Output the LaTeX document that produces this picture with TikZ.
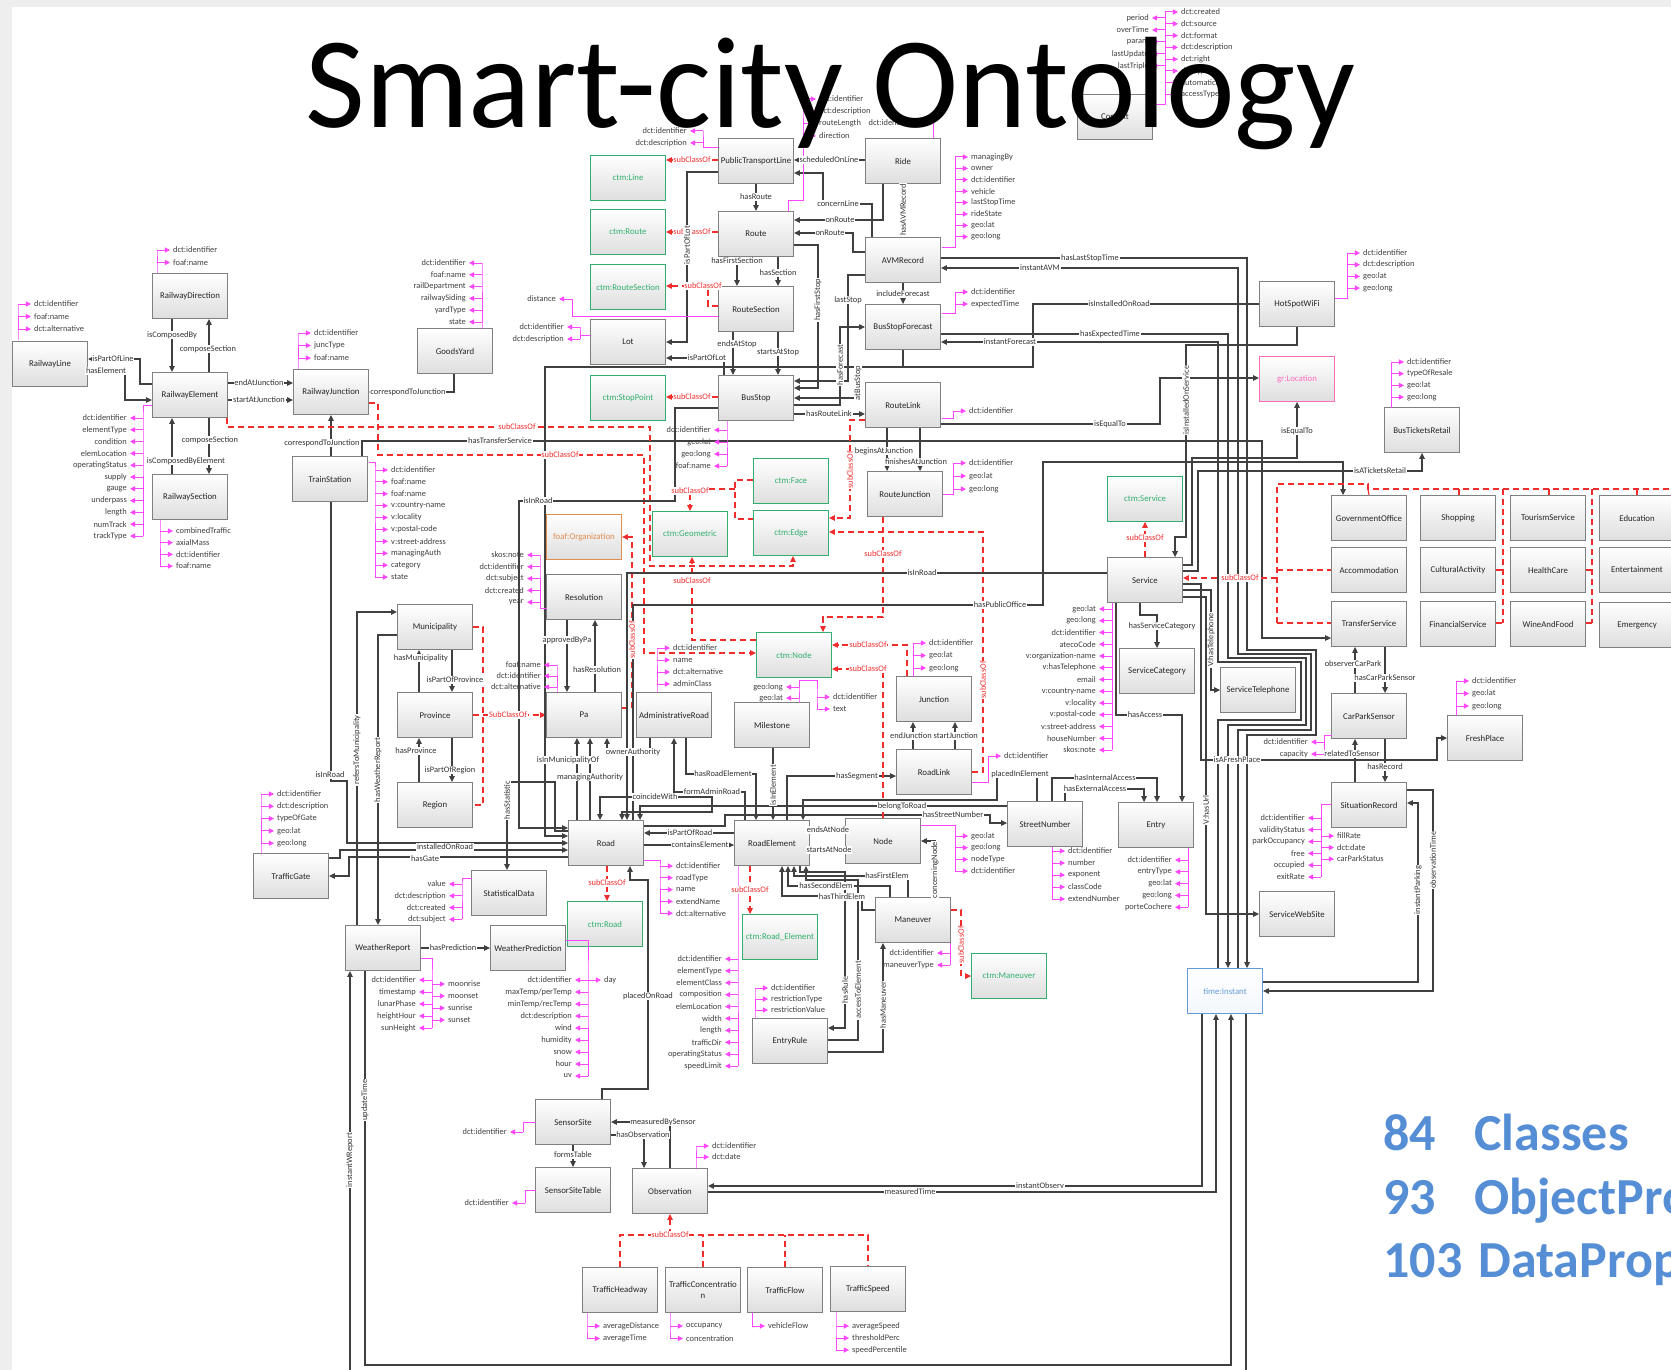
\documentclass[tikz,border=0pt]{standalone}
\usepackage{fontspec}
\setmainfont{Carlito}
\usetikzlibrary{arrows.meta}
\pgfdeclarelayer{back}
\pgfdeclarelayer{bg}
\pgfsetlayers{back,bg,main}

\definecolor{cline}{RGB}{64,64,64}
\definecolor{mag}{RGB}{255,70,255}
\definecolor{sred}{RGB}{240,45,45}
\definecolor{cgreen}{RGB}{50,175,110}
\definecolor{corange}{RGB}{225,140,80}
\definecolor{cpink}{RGB}{255,110,190}
\definecolor{cblue}{RGB}{100,155,215}
\definecolor{statc}{RGB}{85,142,213}
\definecolor{bgray}{RGB}{238,238,238}

\newcounter{ac}
\newcounter{lc}
% attribute list, arrows to the right
\newcommand\myattrR[5]{%
  \foreach \t [count=\i] in {#5} {\xdef\nattr{\i}}%
  \draw[attr] #1 -| (#2,#3) -- (#2,{#3+(\nattr-1)*#4});%
  \foreach \t [count=\i] in {#5} {%
    \draw[attr,atip] (#2,{#3+(\i-1)*#4}) -- ++(13,0);%
    \stepcounter{ac}%
    \node[atxt,anchor=west] (at\arabic{ac}) at ({#2+15},{#3+(\i-1)*#4}) {\t};%
  }%
}
% attribute list, arrows to the left
\newcommand\myattrL[5]{%
  \foreach \t [count=\i] in {#5} {\xdef\nattr{\i}}%
  \draw[attr] #1 -| (#2,#3) -- (#2,{#3+(\nattr-1)*#4});%
  \foreach \t [count=\i] in {#5} {%
    \draw[attr,atip] (#2,{#3+(\i-1)*#4}) -- ++(-13,0);%
    \stepcounter{ac}%
    \node[atxt,anchor=east] (at\arabic{ac}) at ({#2-15},{#3+(\i-1)*#4}) {\t};%
  }%
}
\newcommand\elab[3][]{\stepcounter{lc}\node[elbl,#1] (lb\arabic{lc}) at (#2) {#3};}

\tikzset{
  box/.style={draw=black!50, line width=0.45pt, top color=white, bottom color=black!13,
    minimum width=37.5pt, minimum height=22.5pt, inner sep=0.5pt, text=black!85,
    font=\fontsize{4.4}{5.2}\selectfont, align=center},
  gbox/.style={box, draw=cgreen, text=cgreen},
  obox/.style={box, draw=corange, text=corange},
  pbox/.style={box, draw=cpink, text=cpink},
  tbox/.style={box, draw=cblue, text=cblue, bottom color=cblue!8},
  atxt/.style={font=\fontsize{4.2}{5}\selectfont, text=black!75, inner sep=0.4pt},
  elbl/.style={font=\fontsize{4.2}{5}\selectfont, text=black!80, fill=white, inner sep=0.4pt},
  rl/.style={text=sred},
  rot/.style={rotate=90},
  attr/.style={draw=mag, line width=0.5pt},
  atip/.style={-{Triangle[length=2.6pt,width=2.6pt]}},
  conn/.style={draw=cline, line width=0.55pt},
  arr/.style={-{Triangle[length=3pt,width=2.8pt]}},
  barr/.style={{Triangle[length=3pt,width=2.8pt]}-{Triangle[length=3pt,width=2.8pt]}},
  sub/.style={draw=sred, line width=0.55pt, dash pattern=on 3pt off 2pt},
  stat/.style={anchor=base west, inner sep=0, text=statc, font=\fontsize{26}{30}\selectfont\bfseries},
}

\begin{document}
\begin{tikzpicture}[x=0.5pt,y=-0.5pt]
\useasboundingbox (0,0) rectangle (1671,1370);
\clip (0,0) rectangle (1671,1370);
\begin{pgfonlayer}{back}
\fill[bgray] (0,0) rectangle (1671,1370);
\fill[white] (12,7) rectangle (1671,1370);
\end{pgfonlayer}

% ---------------- classes ----------------
\node[box] (RailwayDirection) at (190,296) {RailwayDirection};
\node[box] (RailwayLine) at (50,364) {RailwayLine};
\node[box] (RailwayElement) at (190,395) {RailwayElement};
\node[box] (RailwayJunction) at (331,392) {RailwayJunction};
\node[box] (RailwaySection) at (190,497) {RailwaySection};
\node[box] (TrainStation) at (330,479) {TrainStation};
\node[box] (GoodsYard) at (455,351) {GoodsYard};
\node[box] (PublicTransportLine) at (756,161) {PublicTransportLine};
\node[gbox] (ctmLine) at (628,178) {ctm:Line};
\node[gbox] (ctmRoute) at (628,232) {ctm:Route};
\node[gbox] (ctmRouteSection) at (628,287) {ctm:RouteSection};
\node[gbox] (ctmStopPoint) at (628,398) {ctm:StopPoint};
\node[box] (Route) at (756,234) {Route};
\node[box] (RouteSection) at (756,309) {RouteSection};
\node[box] (Lot) at (628,342) {Lot};
\node[box] (BusStop) at (756,398) {BusStop};
\node[box] (Ride) at (903,161) {Ride};
\node[box] (AVMRecord) at (903,260) {AVMRecord};
\node[box] (BusStopForecast) at (903,327) {BusStopForecast};
\node[box] (RouteLink) at (903,405) {RouteLink};
\node[box] (Context) at (1115,117) {Context};
\node[box] (HotSpotWiFi) at (1297,304) {HotSpotWiFi};
\node[pbox] (grLocation) at (1297,379) {gr:Location};
\node[box] (BusTicketsRetail) at (1422,430) {BusTicketsRetail};
\node[obox] (foafOrganization) at (584,537) {foaf:Organization};
\node[gbox] (ctmGeometric) at (690,534) {ctm:Geometric};
\node[gbox] (ctmFace) at (791,481) {ctm:Face};
\node[gbox] (ctmEdge) at (791,533) {ctm:Edge};
\node[box] (Resolution) at (584,597) {Resolution};
\node[box] (Municipality) at (435,627) {Municipality};
\node[box] (Province) at (435,715) {Province};
\node[box] (Region) at (435,805) {Region};
\node[box] (Pa) at (584,715) {Pa};
\node[box] (AdministrativeRoad) at (674,715) {AdministrativeRoad};
\node[box] (Milestone) at (772,725) {Milestone};
\node[gbox] (ctmNode) at (794,655) {ctm:Node};
\node[box] (Road) at (606,843) {Road};
\node[box] (RoadElement) at (772,843) {RoadElement};
\node[box] (StatisticalData) at (509,893) {StatisticalData};
\node[gbox] (ctmRoad) at (605,924) {ctm:Road};
\node[gbox] (ctmRoadElement) at (780,937) {ctm:Road\_Element};
\node[box] (RouteJunction) at (905,494) {RouteJunction};
\node[gbox] (ctmService) at (1145,499) {ctm:Service};
\node[box] (Service) at (1145,580) {Service};
\node[box] (ServiceCategory) at (1157,671) {ServiceCategory};
\node[box] (ServiceTelephone) at (1258,690) {ServiceTelephone};
\node[box] (Junction) at (934,699) {Junction};
\node[box] (RoadLink) at (934,772) {RoadLink};
\node[box] (Node) at (883,841) {Node};
\node[box] (StreetNumber) at (1045,824) {StreetNumber};
\node[box] (Entry) at (1156,825) {Entry};
\node[box] (GovernmentOffice) at (1369,518) {GovernmentOffice};
\node[box] (Shopping) at (1458,518) {Shopping};
\node[box] (TourismService) at (1548,518) {TourismService};
\node[box] (Education) at (1637,518) {Education};
\node[box] (Accommodation) at (1369,570) {Accommodation};
\node[box] (CulturalActivity) at (1458,570) {CulturalActivity};
\node[box] (HealthCare) at (1548,570) {HealthCare};
\node[box] (Entertainment) at (1637,570) {Entertainment};
\node[box] (TransferService) at (1369,624) {TransferService};
\node[box] (FinancialService) at (1458,624) {FinancialService};
\node[box] (WineAndFood) at (1548,624) {WineAndFood};
\node[box] (Emergency) at (1637,625) {Emergency};
\node[box] (CarParkSensor) at (1369,716) {CarParkSensor};
\node[box] (FreshPlace) at (1485,738) {FreshPlace};
\node[box] (SituationRecord) at (1369,805) {SituationRecord};
\node[box] (ServiceWebSite) at (1297,914) {ServiceWebSite};
\node[box] (TrafficGate) at (291,876) {TrafficGate};
\node[box] (WeatherReport) at (383,948) {WeatherReport};
\node[box] (WeatherPrediction) at (528,948) {WeatherPrediction};
\node[box] (EntryRule) at (790,1041) {EntryRule};
\node[box] (SensorSite) at (573,1122) {SensorSite};
\node[box] (SensorSiteTable) at (573,1190) {SensorSiteTable};
\node[box] (Observation) at (670,1191) {Observation};
\node[box] (TrafficHeadway) at (620,1290) {TrafficHeadway};
\node[box] (TrafficConcentration) at (703,1290) {TrafficConcentratio\\n};
\node[box] (TrafficFlow) at (785,1290) {TrafficFlow};
\node[box] (TrafficSpeed) at (868,1289) {TrafficSpeed};
\node[tbox] (timeInstant) at (1225,991) {time:Instant};
\node[box] (Maneuver) at (913,920) {Maneuver};
\node[gbox] (ctmManeuver) at (1009,976) {ctm:Maneuver};

% ---------------- connectors ----------------
\begin{pgfonlayer}{bg}
% railway
\draw[conn,arr] (RailwayElement.west |- 0,384) -| (140,359) -- (RailwayLine.east |- 0,359);
\draw[conn,arr] (RailwayLine.east |- 0,371) -| (125,400) -- (RailwayElement.west |- 0,400);
\draw[conn,arr] (RailwayDirection.south -| 172,0) -- (RailwayElement.north -| 172,0);
\draw[conn,arr] (RailwayElement.north -| 209,0) -- (RailwayDirection.south -| 209,0);
\draw[conn,arr] (RailwayElement.east |- 0,383) -- (RailwayJunction.west |- 0,383);
\draw[conn,arr] (RailwayElement.east |- 0,400) -- (RailwayJunction.west |- 0,400);
\draw[conn,arr] (GoodsYard.south -| 454,0) |- (RailwayJunction.east |- 0,392);
\draw[conn,arr] (TrainStation.north -| 331,0) -- (RailwayJunction.south -| 331,0);
\draw[conn,arr] (RailwayElement.south -| 209,0) -- (RailwaySection.north -| 209,0);
\draw[conn,arr] (RailwaySection.north -| 172,0) -- (RailwayElement.south -| 172,0);
\draw[conn,arr] (TrainStation.north -| 362,0) |- (1262,441) |- (TransferService.west |- 0,638);
\draw[conn,arr] (TrainStation.south -| 331,0) -- (331,781) -| (347,843) -- (Road.west |- 0,843);
\draw[sub,arr] (RailwayElement.south -| 227,0) -- (227,427) -- (650,427) -- (650,566) -- (793,566) -- (ctmEdge.south -| 793,0);
\draw[sub,arr] (RailwayJunction.east |- 0,403) -- (378,403) -- (378,455) -- (644,455) -- (644,653) -- (ctmNode.west |- 0,653);
% municipality
\draw[conn,arr] (WeatherReport.north -| 357,0) |- (Municipality.west |- 0,612);
\draw[conn,arr] (Municipality.west |- 0,635) -| (WeatherReport.north -| 378,0);
\draw[conn,arr] (Province.north -| 419,0) -- (Municipality.south -| 419,0);
\draw[conn,arr] (Municipality.south -| 452,0) -- (Province.north -| 452,0);
\draw[conn,arr] (Region.north -| 419,0) -- (Province.south -| 419,0);
\draw[conn,arr] (Province.south -| 452,0) -- (Region.north -| 452,0);
\draw[sub,arr] (Province.east) -- (Pa.west);
\draw[sub] (Municipality.east) -| (483,805) -- (Region.east);
% Pa / Resolution
\draw[conn,arr] (Resolution.south -| 567,0) -- (Pa.north -| 567,0);
\draw[conn,arr] (Pa.north -| 595,0) -- (Resolution.south -| 595,0);
\draw[sub,arr] (Pa.east |- 0,708) -| (632,537) -- (foafOrganization.east);
\draw[conn,arr] (Road.north -| 590,0) -- (Pa.south -| 590,0);
\draw[conn,arr] (Road.north -| 577,0) -- (Pa.south -| 577,0);
\draw[conn,arr] (AdministrativeRoad.south -| 650,0) |- (607,752) -- (Pa.south -| 607,0);
\draw[conn,arr] (Road.west |- 0,831) -| (555,782) -| (StatisticalData.north -| 507,0);
\draw[conn,barr] (Road.north -| 600,0) -- (600,797) -- (712,797) -- (712,812) -- (622,812) -- (Road.north -| 622,0);
% road element
\draw[conn,arr] (AdministrativeRoad.south -| 686,0) |- (756,774) -- (RoadElement.north -| 756,0);
\draw[conn,arr] (RoadElement.north -| 745,0) |- (674,792) -- (AdministrativeRoad.south -| 674,0);
\draw[conn,arr] (Milestone.south -| 773,0) -- (RoadElement.north -| 773,0);
\draw[conn,arr] (RoadElement.west |- 0,833) -- (Road.east |- 0,833);
\draw[conn,arr] (Road.east |- 0,845) -- (RoadElement.west |- 0,845);
\draw[sub,arr] (Road.south -| 607,0) -- (ctmRoad.north -| 607,0);
\draw[sub,arr] (RoadElement.south -| 750,0) -- (ctmRoadElement.north -| 750,0);
\draw[conn,arr] (TrafficGate.east |- 0,858) -| (340,850) -- (Road.west |- 0,850);
\draw[conn,arr] (Road.west |- 0,857) -| (349,876) -- (TrafficGate.east |- 0,876);
% weather
\draw[conn,arr] (WeatherReport.east) -- (WeatherPrediction.west);
\draw[conn,arr] (WeatherReport.south -| 365,0) |- (1231,1365) -- (timeInstant.south -| 1231,0);
\draw[conn,arr] (timeInstant.south -| 1246,0) -- (1246,1380) -- (350,1380) -- (WeatherReport.south -| 350,0);
% sensors
\draw[conn,arr] (SensorSite.north -| 602,0) |- (648,1089) -- (648,880) -| (Road.south -| 630,0);
\draw[conn,arr] (Observation.north -| 670,0) |- (SensorSite.east |- 0,1122);
\draw[conn,arr] (SensorSite.east |- 0,1135) -| (Observation.north -| 644,0);
\draw[conn,arr] (SensorSite.south) -- (SensorSiteTable.north);
\draw[conn,arr] (timeInstant.south -| 1202,0) |- (Observation.east |- 0,1186);
\draw[conn,arr] (Observation.east |- 0,1192) -| (timeInstant.south -| 1216,0);
\draw[sub,arr] (670,1235) -- (Observation.south);
\draw[sub] (TrafficHeadway.north) |- (TrafficSpeed.north |- 0,1235) -- (TrafficSpeed.north);
\draw[sub] (TrafficConcentration.north) -- (703,1235);
\draw[sub] (TrafficFlow.north) -- (785,1235);
% maneuver
\draw[conn,arr] (Maneuver.north -| 908,0) |- (794,876) -- (RoadElement.south -| 794,0);
\draw[conn,arr] (Maneuver.north -| 890,0) |- (788,886) -- (RoadElement.south -| 788,0);
\draw[conn,arr] (Maneuver.west |- 0,910) -- (862,910) |- (782,896) -- (RoadElement.south -| 782,0);
\draw[conn,arr] (RoadElement.south -| 800,0) -- (800,872) -- (845,872) -- (845,1028) -- (EntryRule.east |- 0,1028);
\draw[conn,arr] (EntryRule.east |- 0,1040) -- (858,1040) -- (858,880) -- (806,880) -- (RoadElement.south -| 806,0);
\draw[conn,arr] (EntryRule.east |- 0,1052) -| (Maneuver.south -| 883,0);
\draw[sub,arr] (Maneuver.east |- 0,910) -| (961,976) -- (ctmManeuver.west);
\draw[conn,arr] (Maneuver.north -| 935,0) -- (935,841) -- (Node.east |- 0,841);
% node, street number, entry
\draw[conn,arr] (RoadElement.east |- 0,830) -- (Node.west |- 0,830);
\draw[conn,arr] (RoadElement.east |- 0,850) -- (Node.west |- 0,850);
\draw[conn,arr] (StreetNumber.west |- 0,806) -| (Road.north -| 640,0);
\draw[conn,arr] (Road.east |- 0,826) -- (725,826) -- (725,815) -- (990,815) -- (990,823) -- (StreetNumber.west |- 0,823);
\draw[conn,arr] (RoadElement.north -| 787,0) |- (RoadLink.west |- 0,776);
\draw[conn,arr] (StreetNumber.north -| 1037,0) |- (997,774) |- (803,800) -- (RoadElement.north -| 803,0);
\draw[conn,arr] (StreetNumber.north -| 1052,0) -- (1052,778) -- (1157,778) -- (Entry.north -| 1157,0);
\draw[conn,arr] (StreetNumber.north -| 1065,0) -- (1065,789) -- (1144,789) -- (Entry.north -| 1144,0);
\draw[conn,arr] (Service.south -| 1116,0) |- (1182,715) -- (Entry.north -| 1182,0);
\draw[conn,arr] (RoadLink.north -| 913,0) -- (Junction.south -| 913,0);
\draw[conn,arr] (RoadLink.north -| 955,0) -- (Junction.south -| 955,0);
\draw[conn,arr] (RouteLink.south -| 887,0) -- (RouteJunction.north -| 887,0);
\draw[conn,arr] (RouteLink.south -| 920,0) -- (RouteJunction.north -| 920,0);
% geometry subclasses
\draw[sub,arr] (RouteLink.west |- 0,420) -| (850,518) -- (ctmEdge.east |- 0,518);
\draw[sub,arr] (RoadLink.east |- 0,772) -| (983,532) -- (ctmEdge.east |- 0,532);
\draw[sub,arr] (RouteJunction.south -| 883,0) |- (823,617) -- (ctmNode.north -| 823,0);
\draw[sub,arr] (Junction.north -| 907,0) |- (ctmNode.east |- 0,645);
\draw[sub,arr] (Node.north -| 883,0) |- (ctmNode.east |- 0,669);
\draw[sub,arr] (ctmNode.west |- 0,640) -| (ctmGeometric.south -| 692,0);
\draw[sub] (ctmFace.west |- 0,480) -| (735,519) -- (ctmEdge.west |- 0,519);
\draw[sub,arr] (735,489) -| (ctmGeometric.north -| 690,0);
% public transport
\draw[sub,arr] (PublicTransportLine.west |- 0,160) -- (ctmLine.east |- 0,160);
\draw[sub,arr] (Route.west |- 0,232) -- (ctmRoute.east |- 0,232);
\draw[sub,arr] (RouteSection.west |- 0,306) -| (708,286) -- (ctmRouteSection.east |- 0,286);
\draw[sub,arr] (BusStop.west |- 0,397) -- (ctmStopPoint.east |- 0,397);
\draw[conn,arr] (PublicTransportLine.south) -- (Route.north);
\draw[conn,arr] (Route.south -| 737,0) -- (RouteSection.north -| 737,0);
\draw[conn,arr] (Route.south -| 778,0) -- (RouteSection.north -| 778,0);
\draw[conn,arr] (RouteSection.south -| 733,0) -- (BusStop.north -| 733,0);
\draw[conn,arr] (RouteSection.south -| 778,0) -- (BusStop.north -| 778,0);
\draw[conn,arr] (PublicTransportLine.west |- 0,172) -| (687,342) -- (Lot.east |- 0,342);
\draw[conn,arr] (BusStop.north -| 724,0) |- (Lot.east |- 0,358);
\draw[conn,arr] (Ride.west |- 0,160) -- (PublicTransportLine.east |- 0,160);
\draw[conn,arr] (AVMRecord.north -| 872,0) |- (823,204) |- (PublicTransportLine.east |- 0,173);
\draw[conn,arr] (Ride.south -| 883,0) |- (Route.east |- 0,220);
\draw[conn,arr] (AVMRecord.west |- 0,252) -| (853,233) -- (Route.east |- 0,233);
\draw[conn,arr] (Ride.south -| 903,0) -- (AVMRecord.north -| 903,0);
\draw[conn,arr] (Route.east |- 0,245) -| (818,388) -- (BusStop.east |- 0,388);
\draw[conn,arr] (AVMRecord.west |- 0,275) -| (848,381) -- (BusStop.east |- 0,381);
\draw[conn,arr] (AVMRecord.south) -- (BusStopForecast.north);
\draw[conn,arr] (BusStop.east |- 0,405) -| (840,327) -- (BusStopForecast.west |- 0,327);
\draw[conn,arr] (BusStopForecast.south) |- (858,367) |- (BusStop.east |- 0,398);
\draw[conn,arr] (BusStop.east |- 0,414) -- (RouteLink.west |- 0,414);
\draw[conn,arr] (BusStop.west |- 0,408) -| (675,501) -- (519,501) |- (Road.west |- 0,828);
\draw[conn,arr] (HotSpotWiFi.west |- 0,304) -| (1033,367) -- (545,367) |- (Road.west |- 0,836);
% bundle to time:Instant
\draw[conn,arr] (AVMRecord.east |- 0,258) -- (1247,258) -- (1247,650) -- (1316,650) -- (1316,735) -- (1247,735) -- (timeInstant.north -| 1247,0);
\draw[conn,arr] (timeInstant.north -| 1238,0) -- (1238,730) -- (1311,730) -- (1311,654) -- (1238,654) -- (1238,268) -- (AVMRecord.east |- 0,268);
\draw[conn,arr] (BusStopForecast.east |- 0,334) -- (1228,334) -- (1228,658) -- (1306,658) -- (1306,725) -- (1228,725) -- (timeInstant.north -| 1228,0);
\draw[conn,arr] (timeInstant.north -| 1218,0) -- (1218,720) -- (1301,720) -- (1301,662) -- (1218,662) -- (1218,342) -- (BusStopForecast.east |- 0,342);
% service
\draw[sub,arr] (Service.north) -- (ctmService.south);
\draw[conn,arr] (HotSpotWiFi.south) |- (1186,345) -- (1186,537) -| (Service.north -| 1175,0);
\draw[conn,arr] (RouteLink.east |- 0,424) -| (1160,378) -- (grLocation.west |- 0,378);
\draw[conn,arr] (Service.east |- 0,565) -| (1192,458) -- (1297,458) -- (grLocation.south);
\draw[conn,arr] (Service.east |- 0,571) -| (1198,471) -| (BusTicketsRetail.south);
\draw[conn,arr] (Road.north -| 633,0) -- (633,605) -- (1043,605) -- (1043,462) -- (1343,462) -- (GovernmentOffice.north -| 1343,0);
\draw[conn,arr] (Service.west |- 0,573) -| (Road.north -| 627,0);
\draw[conn,arr] (Service.east |- 0,590) -| (1211,690) -- (ServiceTelephone.west |- 0,690);
\draw[conn,arr] (Service.east |- 0,597) -| (1206,914) -- (ServiceWebSite.west);
\draw[conn,arr] (Service.east |- 0,584) -| (1201,760) -- (1437,760) |- (FreshPlace.west |- 0,738);
\draw[conn,arr] (Service.south -| 1140,0) |- (1157,615) -- (ServiceCategory.north -| 1157,0);
\draw[sub,arr] (1277,578) -- (Service.east |- 0,578);
\draw[sub] (1277,623) -- (1277,484) -- (1368,484) -- (1368,489) -- (1680,489);
\draw[sub] (1368,489) -- (GovernmentOffice.north);
\foreach \xx in {1459,1549,1637} {\draw[sub] (\xx,489) -- (\xx,495.5);}
\draw[sub] (1503,489) -- (1503,623);
\draw[sub] (1592,489) -- (1592,623);
\draw[sub] (1277,570) -- (Accommodation.west);
\draw[sub] (1277,623) -- (TransferService.west |- 0,623);
\draw[sub] (CulturalActivity.east) -- (1503,570);
\draw[sub] (FinancialService.east |- 0,623) -- (1503,623);
\draw[sub] (HealthCare.east) -- (1592,570);
\draw[sub] (WineAndFood.east |- 0,623) -- (1592,623);
% car park
\draw[conn,arr] (CarParkSensor.north -| 1355,0) -- (TransferService.south -| 1355,0);
\draw[conn,arr] (TransferService.south -| 1385,0) -- (CarParkSensor.north -| 1385,0);
\draw[conn,arr] (SituationRecord.north -| 1355,0) -- (CarParkSensor.south -| 1355,0);
\draw[conn,arr] (CarParkSensor.south -| 1385,0) -- (SituationRecord.north -| 1385,0);
\draw[conn,arr] (SituationRecord.east |- 0,790) -| (1433,991) -- (timeInstant.east |- 0,991);
\draw[conn,arr] (timeInstant.east |- 0,982) -| (1418,803) -- (SituationRecord.east |- 0,803);
\end{pgfonlayer}

% ---------------- attributes ----------------
\myattrR{(157,273)}{157}{250}{12.5}{dct:identifier,foaf:name}
\myattrR{(18,340)}{18}{304}{12.5}{dct:identifier,foaf:name,dct:alternative}
\myattrR{(298,369)}{298}{333}{12.5}{dct:identifier,juncType,foaf:name}
\myattrL{(152,405)}{143}{418}{11.8}{dct:identifier,elementType,condition,elemLocation,operatingStatus,supply,gauge,underpass,length,numTrack,trackType}
\myattrR{(160,519.5)}{160}{531}{11.7}{combinedTraffic,axialMass,dct:identifier,foaf:name}
\myattrR{(368.5,462)}{375}{470}{11.9}{dct:identifier,foaf:name,foaf:name,v:country-name,v:locality,v:postal-code,v:street-address,managingAuth,category,state}
\myattrL{(482,328.5)}{482}{263}{11.8}{dct:identifier,foaf:name,railDepartment,railwaySiding,yardType,state}
\myattrL{(718.5,148)}{703}{131}{12}{dct:identifier,dct:description}
\myattrR{(788,211.5) -- (788,200)}{803}{99}{12.3}{dct:identifier,dct:description,routeLength,direction}
\draw[attr,atip] (933,138.5) -- (933,123) -- (916,123);
\node[atxt,anchor=east] (rideid) at (914,123) {dct:identifier};
\myattrR{(941.5,247)}{955}{157}{11.4}{managingBy,owner,dct:identifier,vehicle,lastStopTime,rideState,geo:lat,geo:long}
\myattrR{(941.5,313)}{955}{292}{12}{dct:identifier,expectedTime}
\myattrR{(941.5,418)}{953}{411}{1}{dct:identifier}
\myattrL{(718.5,316)}{572}{299}{1}{distance}
\myattrL{(590.5,335)}{580}{327}{12}{dct:identifier,dct:description}
\myattrL{(727,420.5)}{727}{430}{12}{dct:identifier,geo:lat,geo:long,foaf:name}
\myattrR{(1152.5,105)}{1165}{12}{11.8}{dct:created,dct:source,dct:format,dct:description,dct:right,dct:type,automaticity,accessType}
\myattrL{(1165,18)}{1165}{18}{12}{period,overTime,param,lastUpdate,lastTriple}
\myattrR{(1334.5,298)}{1347}{253}{11.7}{dct:identifier,dct:description,geo:lat,geo:long}
\myattrR{(1391,407.5)}{1391}{362}{11.7}{dct:identifier,typeOfResale,geo:lat,geo:long}
\myattrR{(942.5,494)}{953}{463}{13}{dct:identifier,geo:lat,geo:long}
\myattrL{(546.5,608)}{540}{555}{11.8}{skos:note,dct:identifier,dct:subject,dct:created,year}
\myattrL{(557,692.5)}{557}{665}{11}{foaf:name,dct:identifier,dct:alternative}
\myattrR{(657,692.5)}{657}{648}{12}{dct:identifier,name,dct:alternative,adminClass}
\myattrL{(799,702.5)}{799}{687}{11}{geo:long,geo:lat}
\myattrR{(799,687) -- (799,680)}{817}{697}{12}{dct:identifier,text}
\myattrR{(643.5,860)}{660}{866}{11.8}{dct:identifier,roadType,name,extendName,dct:alternative}
\myattrL{(738,865.5)}{738}{959}{11.9}{dct:identifier,elementType,elementClass,composition,elemLocation,width,length,trafficDir,operatingStatus,speedLimit}
\myattrL{(471.5,878)}{462}{884}{11.8}{value,dct:description,dct:created,dct:subject}
\myattrL{(1112,602.5)}{1112}{609}{11.75}{geo:lat,geo:long,dct:identifier,atecoCode,v:organization-name,v:hasTelephone,email,v:country-name,v:locality,v:postal-code,v:street-address,houseNumber,skos:note}
\myattrR{(913,676.5)}{913}{643}{12.5}{dct:identifier,geo:lat,geo:long}
\myattrR{(971.5,782)}{988}{756}{1}{dct:identifier}
\myattrR{(920.5,825)}{955}{836}{11.7}{geo:lat,geo:long,nodeType,dct:identifier}
\myattrR{(1052,846.5)}{1052}{851}{12}{dct:identifier,number,exponent,classCode,extendNumber}
\myattrL{(1188,847.5)}{1188}{860}{11.8}{dct:identifier,entryType,geo:lat,geo:long,porteCochere}
\myattrL{(1331.5,735)}{1324}{742}{12}{dct:identifier,capacity}
\myattrR{(1456,715.5)}{1456}{681}{12.5}{dct:identifier,geo:lat,geo:long}
\myattrL{(1331.5,804)}{1321}{818}{11.8}{dct:identifier,validityStatus,parkOccupancy,free,occupied,exitRate}
\myattrR{(1321,830)}{1321}{836}{11.5}{fillRate,dct:date,carParkStatus}
\myattrR{(261,853.5)}{261}{794}{12.3}{dct:identifier,dct:description,typeOfGate,geo:lat,geo:long}
\myattrL{(420.5,958)}{432}{980}{12}{dct:identifier,timestamp,lunarPhase,heightHour,sunHeight}
\myattrR{(432,980)}{432}{984}{12}{moonrise,moonset,sunrise,sunset}
\myattrL{(565.5,940)}{588}{980}{12}{dct:identifier,maxTemp\slash perTemp,minTemp\slash recTemp,dct:description,wind,humidity,snow,hour,uv}
\myattrR{(588,980)}{588}{980}{1}{day}
\myattrR{(755,1018.5)}{755}{988}{11}{dct:identifier,restrictionType,restrictionValue}
\myattrL{(535.5,1122)}{523}{1132}{1}{dct:identifier}
\myattrL{(535.5,1190)}{525}{1203}{1}{dct:identifier}
\myattrR{(696,1168.5)}{696}{1146}{11}{dct:identifier,dct:date}
\myattrR{(587,1312.5)}{587}{1326}{12.5}{averageDistance,averageTime}
\myattrR{(670,1312.5)}{670}{1326}{12.5}{occupancy,concentration}
\myattrR{(752,1312.5)}{752}{1326}{1}{vehicleFlow}
\myattrR{(836,1311.5)}{836}{1326}{12}{averageSpeed,thresholdPerc,speedPercentile}
\myattrL{(950,942.5)}{950}{953}{12}{dct:identifier,maneuverType}

% ---------------- connector labels ----------------
\elab{113,359}{isPartOfLine}
\elab{106,371}{hasElement}
\elab{172,335}{isComposedBy}
\elab{208,349}{composeSection}
\elab{259,383}{endAtJunction}
\elab{259,400}{startAtJunction}
\elab{408,392}{correspondToJunction}
\elab{322,443}{correspondToJunction}
\elab{210,440}{composeSection}
\elab{186,461}{isComposedByElement}
\elab{330,775}{isInRoad}
\elab{500,441}{hasTransferService}
\elab[rl]{517,427}{subClassOf}
\elab[rl]{560,455}{subClassOf}
\elab[rot]{357,750}{refersToMunicipality}
\elab[rot]{378,770}{hasWeatherReport}
\elab{421,658}{hasMunicipality}
\elab{455,680}{isPartOfProvince}
\elab{416,751}{hasProvince}
\elab{450,770}{isPartOfRegion}
\elab[rl]{508,715}{SubClassOf}
\elab{567,640}{approvedByPa}
\elab{597,670}{hasResolution}
\elab[rl,rot]{632,640}{subClassOf}
\elab{568,760}{isInMunicipalityOf}
\elab{590,777}{managingAuthority}
\elab{633,752}{ownerAuthority}
\elab[rot]{507,800}{hasStatistic}
\elab{655,797}{coincideWith}
\elab{723,774}{hasRoadElement}
\elab{712,792}{formAdminRoad}
\elab[rot]{773,785}{isInElement}
\elab{690,833}{isPartOfRoad}
\elab{700,845}{containsElement}
\elab[rl]{607,883}{subClassOf}
\elab[rl]{750,890}{subClassOf}
\elab{445,847}{installedOnRoad}
\elab{425,859}{hasGate}
\elab{453,948}{hasPrediction}
\elab{648,996}{placedOnRoad}
\elab{663,1122}{measuredBySensor}
\elab{643,1135}{hasObservation}
\elab{573,1155}{formsTable}
\elab{1040,1186}{instantObserv}
\elab{910,1192}{measuredTime}
\elab[rl]{670,1235}{subClassOf}
\elab[rot]{365,1100}{updateTime}
\elab[rot]{350,1160}{instantWReport}
\elab{887,876}{hasFirstElem}
\elab{826,886}{hasSecondElem}
\elab{842,897}{hasThirdElem}
\elab[rot]{845,990}{hasRule}
\elab[rot]{858,990}{accessToElement}
\elab[rot]{883,1005}{hasManeuver}
\elab[rl,rot]{961,945}{subClassOf}
\elab[rot]{935,870}{concerningNode}
\elab{828,830}{endsAtNode}
\elab{829,850}{startsAtNode}
\elab{902,806}{belongToRoad}
\elab{953,815}{hasStreetNumber}
\elab{857,776}{hasSegment}
\elab{1020,774}{placedInElement}
\elab{1105,778}{hasInternalAccess}
\elab{1095,789}{hasExternalAccess}
\elab{1145,715}{hasAccess}
\elab{934,736}{endJunction startJunction}
\elab{884,451}{beginsAtJunction}
\elab{916,462}{finishesAtJunction}
\elab[rl,rot]{850,470}{subClassOf}
\elab[rl,rot]{983,680}{subClassOf}
\elab[rl]{883,554}{subClassOf}
\elab[rl]{868,645}{subClassOf}
\elab[rl]{868,669}{subClassOf}
\elab[rl]{692,581}{subClassOf}
\elab[rl]{690,491}{subClassOf}
\elab[rl]{692,160}{subClassOf}
\elab[rl]{692,232}{subClassOf}
\elab[rl]{703,286}{subClassOf}
\elab[rl]{692,397}{subClassOf}
\elab{756,197}{hasRoute}
\elab{737,261}{hasFirstSection}
\elab{778,273}{hasSection}
\elab{737,344}{endsAtStop}
\elab{778,352}{startsAtStop}
\elab[rot]{687,245}{isPartOfLot}
\elab{707,358}{isPartOfLot}
\elab{829,160}{scheduledOnLine}
\elab{838,204}{concernLine}
\elab{840,220}{onRoute}
\elab{830,233}{onRoute}
\elab[rot]{903,210}{hasAVMRecord}
\elab[rot]{818,300}{hasFirstStop}
\elab{848,300}{lastStop}
\elab{903,294}{includeForecast}
\elab[rot]{840,365}{hasForecast}
\elab[rot]{858,383}{atBusStop}
\elab{829,414}{hasRouteLink}
\elab{538,501}{isInRoad}
\elab{1119,304}{isInstalledOnRoad}
\elab[rot]{1186,400}{isInstalledOnService}
\elab{1110,424}{isEqualTo}
\elab{1297,431}{isEqualTo}
\elab{1380,471}{isATicketsRetail}
\elab{1000,605}{hasPublicOffice}
\elab{922,573}{isInRoad}
\elab[rl]{1145,538}{subClassOf}
\elab[rl]{1240,578}{subClassOf}
\elab[rot]{1211,640}{V:hasTelephone}
\elab[rot]{1206,810}{V:hasUrl}
\elab{1162,626}{hasServiceCategory}
\elab{1237,760}{isAFreshPlace}
\elab{1353,664}{observerCarPark}
\elab{1385,678}{hasCarParkSensor}
\elab{1352,754}{relatedToSensor}
\elab{1385,767}{hasRecord}
\elab[rot]{1418,890}{instantParking}
\elab[rot]{1433,860}{observationTime}
\elab{1090,258}{hasLastStopTime}
\elab{1040,268}{instantAVM}
\elab{1110,334}{hasExpectedTime}
\elab{1010,342}{instantForecast}

% ---------------- title and counts ----------------
\node[anchor=base west, inner sep=0, font=\fontsize{65}{70}\selectfont] (title) at (305,128) {Smart-city Ontology};
\node[stat] (n84) at (1383,1150) {84};
\node[stat] (cls) at (1474,1150) {Classes};
\node[stat] (n93) at (1383,1214) {93};
\node[stat] (obj) at (1474,1214) {ObjectProperties};
\node[stat] (n103) at (1383,1277) {103};
\node[stat] (dat) at (1478,1277) {DataProperties};
\end{tikzpicture}
\end{document}
